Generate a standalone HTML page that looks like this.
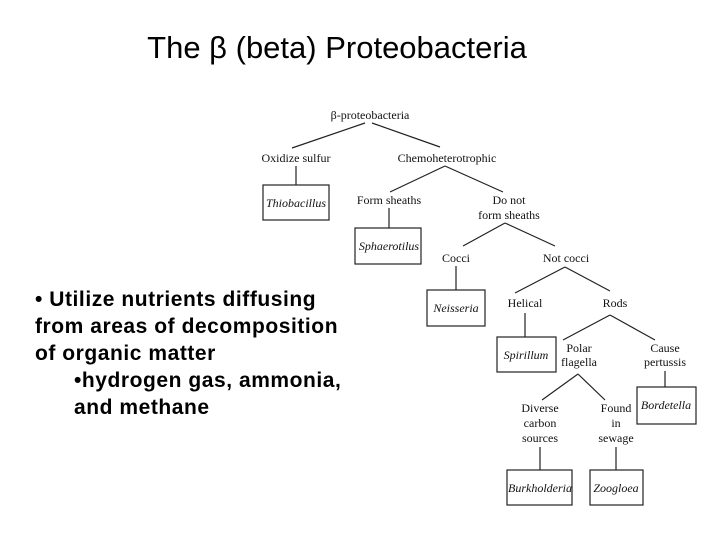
<!DOCTYPE html>
<html><head><style>
body{margin:0;background:#fff;width:720px;height:540px;overflow:hidden}
svg{display:block}
.s{font-family:"Liberation Serif",serif;font-size:12px;fill:#111}
.i{font-style:italic}
.t{font-family:"Liberation Sans",sans-serif;font-size:21px;font-weight:bold;letter-spacing:0.55px;fill:#000}
line,rect{stroke:#222;stroke-width:1.2;fill:none}
</style></head><body>
<svg width="720" height="540" xmlns="http://www.w3.org/2000/svg">
<text x="337" y="58" text-anchor="middle" style="font-family:'Liberation Sans','DejaVu Sans',sans-serif;font-size:31px">The β (beta) Proteobacteria</text>
<text class="t" x="35" y="306">• Utilize nutrients diffusing</text>
<text class="t" x="35" y="333">from areas of decomposition</text>
<text class="t" x="35" y="360">of organic matter</text>
<text class="t" x="74" y="387">•hydrogen gas, ammonia,</text>
<text class="t" x="74" y="414">and methane</text>
<g text-anchor="middle" class="s">
<text x="370" y="119">β-proteobacteria</text>
<line x1="365" y1="123" x2="292" y2="148"/><line x1="372" y1="123" x2="440" y2="147"/>
<text x="296" y="162">Oxidize sulfur</text>
<text x="447" y="162">Chemoheterotrophic</text>
<line x1="296" y1="166" x2="296" y2="185"/>
<rect x="263" y="185" width="66" height="35"/>
<text class="i" x="296" y="207">Thiobacillus</text>
<line x1="445" y1="166" x2="390" y2="192"/><line x1="445" y1="166" x2="503" y2="192"/>
<text x="389" y="204">Form sheaths</text>
<text x="509" y="204">Do not</text>
<text x="509" y="219">form sheaths</text>
<line x1="389" y1="208" x2="389" y2="228"/>
<rect x="355" y="228" width="66" height="36"/>
<text class="i" x="389" y="250">Sphaerotilus</text>
<line x1="505" y1="223" x2="463" y2="246"/><line x1="505" y1="223" x2="555" y2="246"/>
<text x="456" y="262">Cocci</text>
<text x="566" y="262">Not cocci</text>
<line x1="456" y1="266" x2="456" y2="290"/>
<rect x="427" y="290" width="58" height="36"/>
<text class="i" x="456" y="312">Neisseria</text>
<line x1="565" y1="267" x2="515" y2="293"/><line x1="565" y1="267" x2="610" y2="291"/>
<text x="525" y="307">Helical</text>
<text x="615" y="307">Rods</text>
<line x1="525" y1="313" x2="525" y2="337"/>
<rect x="497" y="337" width="59" height="35"/>
<text class="i" x="526" y="359">Spirillum</text>
<line x1="610" y1="315" x2="563" y2="340"/><line x1="610" y1="315" x2="655" y2="340"/>
<text x="579" y="352">Polar</text><text x="579" y="366">flagella</text>
<text x="665" y="352">Cause</text><text x="665" y="366">pertussis</text>
<line x1="665" y1="371" x2="665" y2="387"/>
<rect x="637" y="387" width="59" height="37"/>
<text class="i" x="666" y="409">Bordetella</text>
<line x1="578" y1="374" x2="542" y2="400"/><line x1="578" y1="374" x2="605" y2="400"/>
<text x="540" y="412">Diverse</text><text x="540" y="427">carbon</text><text x="540" y="442">sources</text>
<text x="616" y="412">Found</text><text x="616" y="427">in</text><text x="616" y="442">sewage</text>
<line x1="540" y1="447" x2="540" y2="470"/><line x1="616" y1="447" x2="616" y2="470"/>
<rect x="507" y="470" width="65" height="35"/>
<rect x="590" y="470" width="53" height="35"/>
<text class="i" x="540" y="492">Burkholderia</text>
<text class="i" x="616" y="492">Zoogloea</text>
</g>
</svg>
</body></html>
